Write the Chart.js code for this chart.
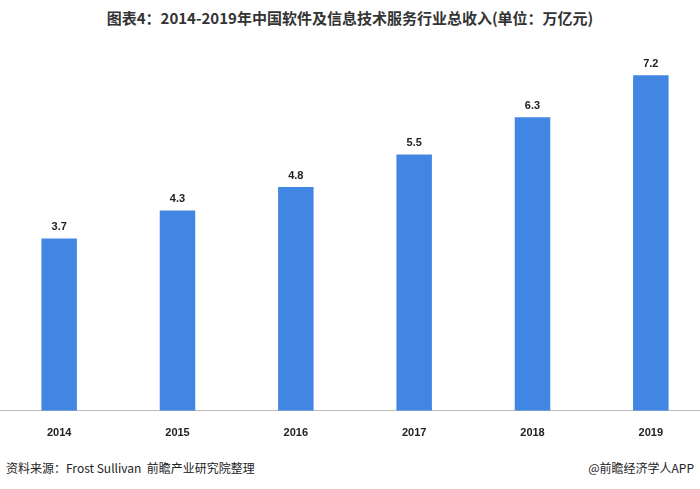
<!DOCTYPE html>
<html>
<head>
<meta charset="utf-8">
<script src="https://cdn.jsdelivr.net/npm/chart.js@4"></script>
<style>
	body { margin: 0; width: 700px; height: 489px; background: #fff; font-family: "Noto Sans CJK SC", sans-serif; position: relative; overflow: hidden; }
	#title { position: absolute; top: 7px; left: 0; width: 700px; text-align: center; font-size: 15px; font-weight: bold; color: #333; }
	#wrap { position: absolute; left: 0; top: 38px; width: 710px; height: 410px; }
	.foot { position: absolute; top: 459px; font-size: 12px; color: #222; }
</style>
</head>
<body>
<div id="title">图表4：2014-2019年中国软件及信息技术服务行业总收入(单位：万亿元)</div>
<div id="wrap"><canvas id="chart"></canvas></div>
<div class="foot" style="left:6px">资料来源：Frost Sullivan&nbsp; 前瞻产业研究院整理</div>
<div class="foot" style="right:6px">@前瞻经济学人APP</div>
<script>
const years = ["2014", "2015", "2016", "2017", "2018", "2019"];
const revenue = [3.7, 4.3, 4.8, 5.5, 6.3, 7.2];

const valueLabels = {
	id: "valueLabels",
	afterDatasetsDraw(chart) {
		const ctx = chart.ctx;
		ctx.save();
		ctx.font = "bold 11px 'Liberation Sans', Arial, sans-serif";
		ctx.fillStyle = "#222";
		ctx.textAlign = "center";
		ctx.textBaseline = "bottom";
		chart.getDatasetMeta(0).data.forEach((bar, i) => {
			ctx.fillText(revenue[i].toFixed(1), bar.x, bar.y - 6);
		});
		ctx.restore();
	},
};

new Chart(document.getElementById("chart"), {
	type: "bar",
	data: {
		labels: years,
		datasets: [{ data: revenue, backgroundColor: "#4286E3", barPercentage: 0.6, categoryPercentage: 0.5 }],
	},
	options: {
		responsive: true,
		maintainAspectRatio: false,
		animation: false,
		plugins: { legend: { display: false }, tooltip: { enabled: false } },
		scales: {
			y: { display: false, min: 0, max: 8 },
			x: {
				grid: { display: false },
				border: { color: "#bbb" },
				ticks: { color: "#222", font: { family: "'Liberation Sans', Arial", size: 11, weight: "bold" }, padding: 8 },
			},
		},
	},
	plugins: [valueLabels],
});
</script>
</body>
</html>
